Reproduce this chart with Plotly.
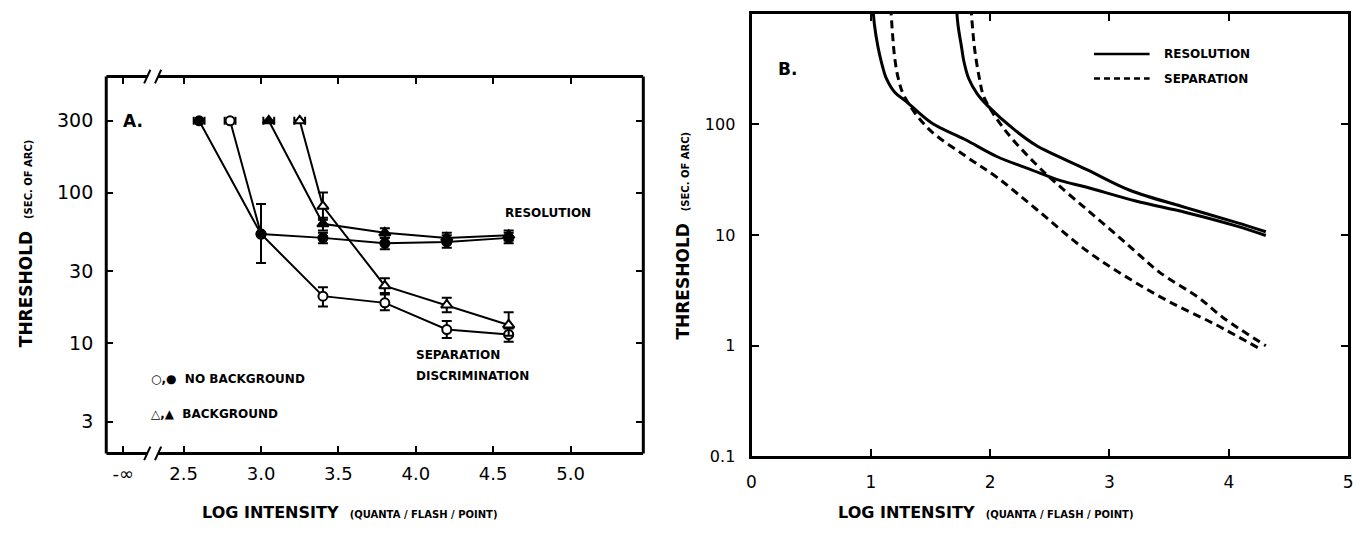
import plotly.graph_objects as go

# ---------------- Panel A: measured thresholds ----------------
# filled circles: resolution, no background
x_res_nobg = [2.6, 3.0, 3.4, 3.8, 4.2, 4.6]
y_res_nobg = [300, 53, 50, 46, 47, 50]
hi_res_nobg = [None, 84, 54, 50, 52, 54]
lo_res_nobg = [None, 34, 46, 42, 43, 46]

# open circles: separation discrimination, no background
x_sep_nobg = [2.8, 3.0, 3.4, 3.8, 4.2, 4.6]
y_sep_nobg = [300, 53, 20.5, 18.5, 12.3, 11.4]
hi_sep_nobg = [None, 84, 23.5, 21, 14, 12.5]
lo_sep_nobg = [None, 34, 17.5, 16.5, 10.8, 10.2]

# filled triangles: resolution, background
x_res_bg = [3.05, 3.4, 3.8, 4.2, 4.6]
y_res_bg = [300, 62, 54, 50, 52]
hi_res_bg = [None, 68, 58, 54, 56]
lo_res_bg = [None, 56, 50, 46, 48]

# open triangles: separation discrimination, background
x_sep_bg = [3.25, 3.4, 3.8, 4.2, 4.6]
y_sep_bg = [300, 81, 24, 17.9, 13.2]
hi_sep_bg = [None, 100, 27, 20, 16]
lo_sep_bg = [None, 66, 21.5, 16, 11.2]

# horizontal spread of the threshold-onset points
x_spread = 0.035

# ---------------- Panel B: predicted curves ----------------
bx_res_1 = [1.01, 1.03, 1.06, 1.09, 1.13, 1.20, 1.30, 1.51, 1.79, 2.06, 2.34, 2.59, 2.81, 3.22, 3.64, 4.06, 4.31]
by_res_1 = [1500, 800, 500, 360, 260, 195, 160, 103, 73, 51, 39, 31, 27, 20.3, 16, 12.1, 9.9]

bx_res_2 = [1.71, 1.73, 1.76, 1.78, 1.82, 1.89, 1.98, 2.20, 2.39, 2.48, 2.81, 3.17, 3.64, 4.06, 4.31]
by_res_2 = [1500, 800, 500, 370, 260, 190, 147, 90, 64, 57, 39, 25.4, 17.7, 13, 10.7]

bx_sep_1 = [1.16, 1.18, 1.20, 1.23, 1.28, 1.48, 1.79, 2.06, 2.39, 2.81, 3.17, 3.50, 3.89, 4.25]
by_sep_1 = [1500, 700, 400, 260, 180, 92, 52, 33, 17, 7.2, 4.0, 2.5, 1.55, 0.95]

bx_sep_2 = [1.83, 1.85, 1.87, 1.91, 1.95, 2.12, 2.39, 2.56, 2.81, 3.06, 3.25, 3.42, 3.75, 3.95, 4.31]
by_sep_2 = [1500, 800, 478, 260, 175, 90, 43, 29, 17, 10, 6.6, 4.6, 2.7, 1.8, 1.0]

a_yticks = [3, 10, 30, 100, 300]
a_xticks = [2.11, 2.5, 3.0, 3.5, 4.0, 4.5, 5.0]
a_xticktext = ["-\u221e", "2.5", "3.0", "3.5", "4.0", "4.5", "5.0"]
b_yticks = [0.1, 1, 10, 100]
b_yticktext = ["0.1", "1", "10", "100"]
b_xticks = [0, 1, 2, 3, 4, 5]

FONT = "DejaVu Sans"
INK = "black"


def up(y, hi):
    return [None if h is None else h - v for v, h in zip(y, hi)]


def down(y, lo):
    return [None if l is None else v - l for v, l in zip(y, lo)]


def first_only(x, val):
    return [val] + [None] * (len(x) - 1)


fig = go.Figure()


def add_series(x, y, hi, lo, symbol, fill):
    fig.add_trace(go.Scatter(
        x=x, y=y, mode="lines+markers", xaxis="x", yaxis="y",
        line=dict(color=INK, width=2),
        marker=dict(symbol=symbol, size=10 if "triangle" in symbol else 9,
                    color=fill, line=dict(color=INK, width=2)),
        error_y=dict(type="data", array=up(y, hi), arrayminus=down(y, lo),
                     symmetric=False, color=INK, thickness=2, width=5),
        error_x=dict(type="data", array=first_only(x, x_spread), color=INK,
                     thickness=2, width=4),
        showlegend=False, hoverinfo="skip"))


add_series(x_sep_nobg, y_sep_nobg, hi_sep_nobg, lo_sep_nobg, "circle", "white")
add_series(x_sep_bg, y_sep_bg, hi_sep_bg, lo_sep_bg, "triangle-up", "white")
add_series(x_res_nobg, y_res_nobg, hi_res_nobg, lo_res_nobg, "circle", INK)
add_series(x_res_bg, y_res_bg, hi_res_bg, lo_res_bg, "triangle-up", INK)

for bx, by, dash in [(bx_res_1, by_res_1, "solid"), (bx_res_2, by_res_2, "solid"),
                     (bx_sep_1, by_sep_1, "8px,5px"), (bx_sep_2, by_sep_2, "8px,5px")]:
    fig.add_trace(go.Scatter(
        x=bx, y=by, mode="lines", xaxis="x2", yaxis="y2",
        line=dict(color=INK, width=3, dash=dash, shape="spline", smoothing=1.0),
        showlegend=False, hoverinfo="skip"))

W, H = 1372, 536
A_L, A_R, A_T, A_B = 102, 643, 78, 462
B_L, B_R, B_T, B_B = 752, 1353, 14, 465
A_XR = [2.0, 5.47]
A_GAP = [2.265, 2.335]


def px(x):
    return x / W


def py(y):
    return 1 - y / H


common = dict(ticks="inside", ticklen=7, tickwidth=2, tickcolor=INK,
              showgrid=False, zeroline=False)

fig.update_layout(
    width=W, height=H, margin=dict(l=0, r=0, t=0, b=0),
    paper_bgcolor="white", plot_bgcolor="white",
    xaxis=dict(domain=[px(A_L), px(A_R)], range=A_XR, anchor="y",
               tickvals=a_xticks, ticktext=a_xticktext, showline=False,
               mirror="ticks", ticklabelstandoff=8,
               tickfont=dict(family=FONT, size=18, color=INK), **common),
    yaxis=dict(domain=[py(A_B), py(A_T)], type="log",
               range=[0.267, 2.771], anchor="x", tickvals=a_yticks,
               ticktext=[str(v) for v in a_yticks], showline=False,
               mirror="ticks", ticklabelstandoff=12,
               tickfont=dict(family=FONT, size=19, color=INK), **common),
    xaxis2=dict(domain=[px(B_L), px(B_R)], range=[0, 5], anchor="y2",
                tickvals=b_xticks, showline=True, linewidth=3, linecolor=INK,
                mirror="ticks", ticklabelstandoff=8,
                tickfont=dict(family=FONT, size=17, color=INK), **common),
    yaxis2=dict(domain=[py(B_B), py(B_T)], type="log", range=[-1, 3],
                anchor="x2", tickvals=b_yticks, ticktext=b_yticktext,
                showline=True, linewidth=3, linecolor=INK, mirror="ticks",
                ticklabelstandoff=10,
                tickfont=dict(family=FONT, size=16, color=INK), **common),
)

# Panel A frame with the broken x axis
shapes = []
line3 = dict(color=INK, width=3)
for yd in (0, 1):
    shapes.append(dict(type="line", xref="x", yref="y domain", x0=A_XR[0], x1=A_GAP[0],
                       y0=yd, y1=yd, line=line3))
    shapes.append(dict(type="line", xref="x", yref="y domain", x0=A_GAP[1], x1=A_XR[1],
                       y0=yd, y1=yd, line=line3))
    for gx in A_GAP:
        shapes.append(dict(type="line", xref="x", yref="y domain",
                           x0=gx - 0.02, x1=gx + 0.02, y0=yd - 0.018, y1=yd + 0.018,
                           line=dict(color=INK, width=2)))
for xd in (0, 1):
    shapes.append(dict(type="line", xref="x domain", yref="y domain", x0=xd, x1=xd,
                       y0=0, y1=1, line=line3))

# Panel B key
for ky, dash in [(55, "solid"), (80, "6px,4px")]:
    shapes.append(dict(type="line", xref="paper", yref="paper", x0=px(1097), x1=px(1153),
                       y0=py(ky), y1=py(ky), line=dict(color=INK, width=2.5, dash=dash)))
fig.update_layout(shapes=shapes)


def note(text, x, y, size=13, anchor="left", angle=0, bold=True):
    fig.add_annotation(text=f"<b>{text}</b>" if bold else text, x=px(x), y=py(y),
                       xref="paper", yref="paper", showarrow=False,
                       xanchor=anchor, yanchor="middle", textangle=angle,
                       font=dict(family=FONT, size=size, color=INK))


small = '<span style="font-size:10px">{}</span>'
note("A.", 117, 123, size=17)
note("RESOLUTION", 502, 217, size=12)
note("SEPARATION", 412, 362, size=12)
note("DISCRIMINATION", 412, 383, size=12)
note("\u25cb,\u25cf  NO BACKGROUND", 145, 386, size=12)
note("\u25b3,\u25b2  BACKGROUND", 145, 422, size=12)
note("THRESHOLD  " + small.format("(SEC. OF ARC)"), 22, 248, size=17, anchor="center", angle=-90)
note("LOG INTENSITY  " + small.format("(QUANTA / FLASH / POINT)"), 347, 522, size=16, anchor="center")

note("B.", 777, 70, size=17)
note("RESOLUTION", 1165, 55, size=12)
note("SEPARATION", 1165, 80, size=12)
note("THRESHOLD  " + small.format("(SEC. OF ARC)"), 682, 240, size=17, anchor="center", angle=-90)
note("LOG INTENSITY  " + small.format("(QUANTA / FLASH / POINT)"), 988, 522, size=16, anchor="center")

fig.write_html("out.html")
